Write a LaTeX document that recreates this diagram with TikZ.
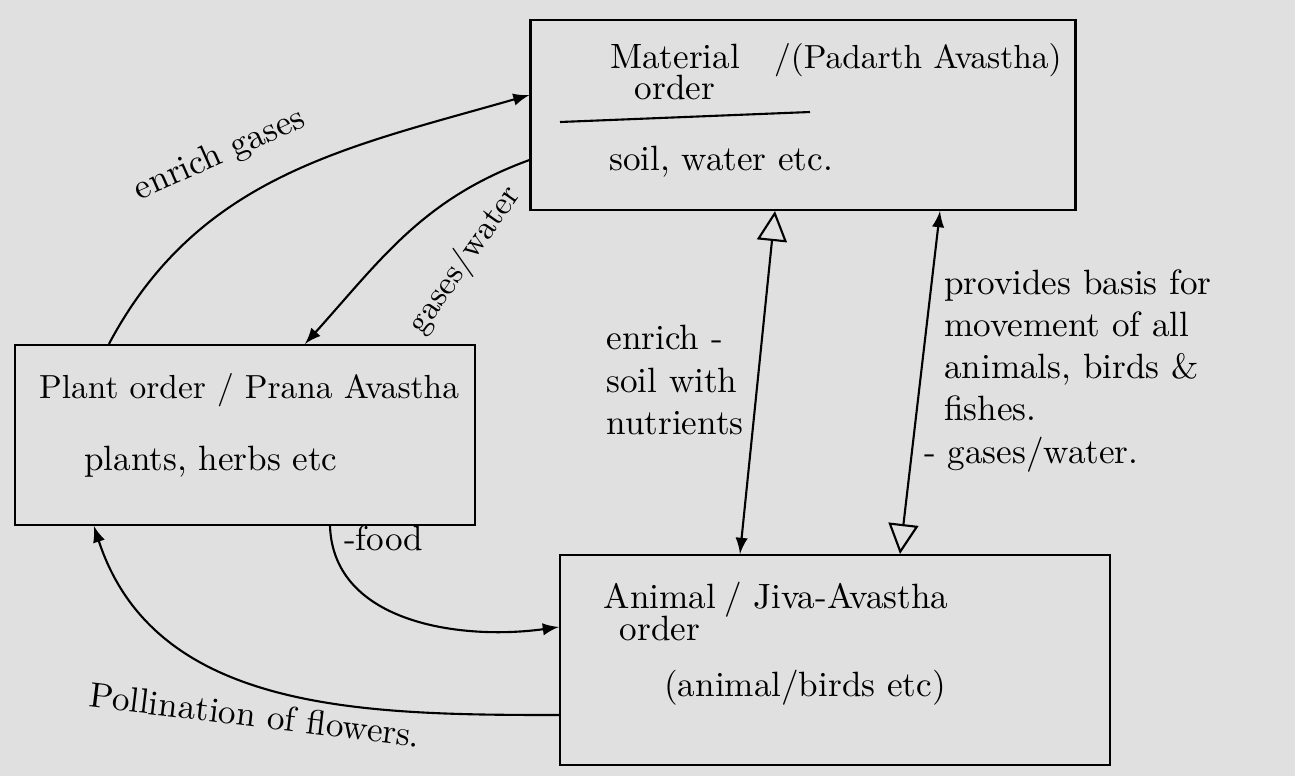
\documentclass[tikz,border=0pt]{standalone}
\usetikzlibrary{arrows.meta}

\tikzset{
  box/.style={draw, semithick, inner sep=0pt},
  link/.style={semithick},
  lbl/.style={font=\normalsize, inner sep=1pt},
  boxtxt/.style={font=\normalsize, inner sep=1pt, align=center}
}

\begin{document}
\begin{tikzpicture}
    \fill[black!12] (0,0) rectangle (12.95,-7.76);
    \useasboundingbox (0,0) rectangle (12.95,-7.76);

    % the three orders
    \node[box, minimum width=5.45cm, minimum height=1.9cm] (mat) at (8.03,-1.15) {};
    \node[box, minimum width=4.6cm, minimum height=1.8cm] (plant) at (2.45,-4.35) {};
    \node[box, minimum width=5.5cm, minimum height=2.1cm] (anim) at (8.35,-6.6) {};

    % material order text
    \node[boxtxt] (matname) at (6.75,-0.72) {Material\\[-3pt]order};
    \node[boxtxt, anchor=west, font=\fontsize{9.5}{11}\selectfont] (matalt) at (7.7,-0.6) {/(Padarth Avastha)};
    \draw[link] (5.6,-1.22) -- (8.1,-1.12);
    \node[boxtxt, anchor=west] (matex) at (6.05,-1.62) {soil, water etc.};

    % plant order text
    \node[boxtxt, anchor=west, font=\fontsize{9.5}{11}\selectfont] (plname) at (0.35,-3.9) {Plant order / Prana Avastha};
    \node[boxtxt, anchor=west] (plex) at (0.8,-4.62) {plants, herbs etc};

    % animal order text
    \node[boxtxt] (anname) at (6.6,-6.12) {Animal\\[-3pt]order};
    \node[boxtxt, anchor=west] (analt) at (7.2,-6.0) {/ Jiva-Avastha};
    \node[boxtxt, anchor=west] (anex) at (6.6,-6.88) {(animal/birds etc)};

    % plant <-> material
    \draw[link, -latex] ([xshift=9.5mm]plant.north west) to[out=62, in=196] ([yshift=2mm]mat.west);
    \draw[link, -latex] ([yshift=-4.5mm]mat.west) to[out=200, in=48] ([xshift=6mm]plant.north);
    \node[lbl, rotate=24] (enr) at (2.2,-1.55) {enrich gases};
    \node[lbl, rotate=55, font=\fontsize{9.5}{11}\selectfont] (gw) at (4.65,-2.6) {gases/water};

    % plant <-> animal
    \draw[link, -latex] ([xshift=8.5mm]plant.south) to[out=-88, in=188] ([yshift=3.3mm]anim.west);
    \draw[link, -latex] ([yshift=-5.5mm]anim.west) to[out=180, in=-72] ([xshift=8mm]plant.south west);
    \node[lbl, anchor=west] (fd) at (3.4,-5.38) {-food};
    \node[lbl, rotate=-7] (pol) at (2.55,-7.15) {Pollination of flowers.};

    % material <-> animal
    \draw[link, {Triangle[open, length=3mm, width=3mm]}-latex] ([xshift=-2.8mm]mat.south) -- ([xshift=-9.5mm]anim.north);
    \draw[link, latex-{Triangle[open, length=3mm, width=3mm]}] ([xshift=13.7mm]mat.south) -- ([xshift=6.5mm]anim.north);
    \node[lbl, align=left] (soil) at (6.75,-3.8) {enrich -\\soil with\\nutrients};
    \node[lbl, align=left, anchor=north west] (basis) at (9.4,-2.65) {provides basis for\\movement of all\\animals, birds \&\\fishes.};
    \node[lbl, anchor=west] (gw2) at (9.2,-4.55) {- gases/water.};
\end{tikzpicture}
\end{document}
